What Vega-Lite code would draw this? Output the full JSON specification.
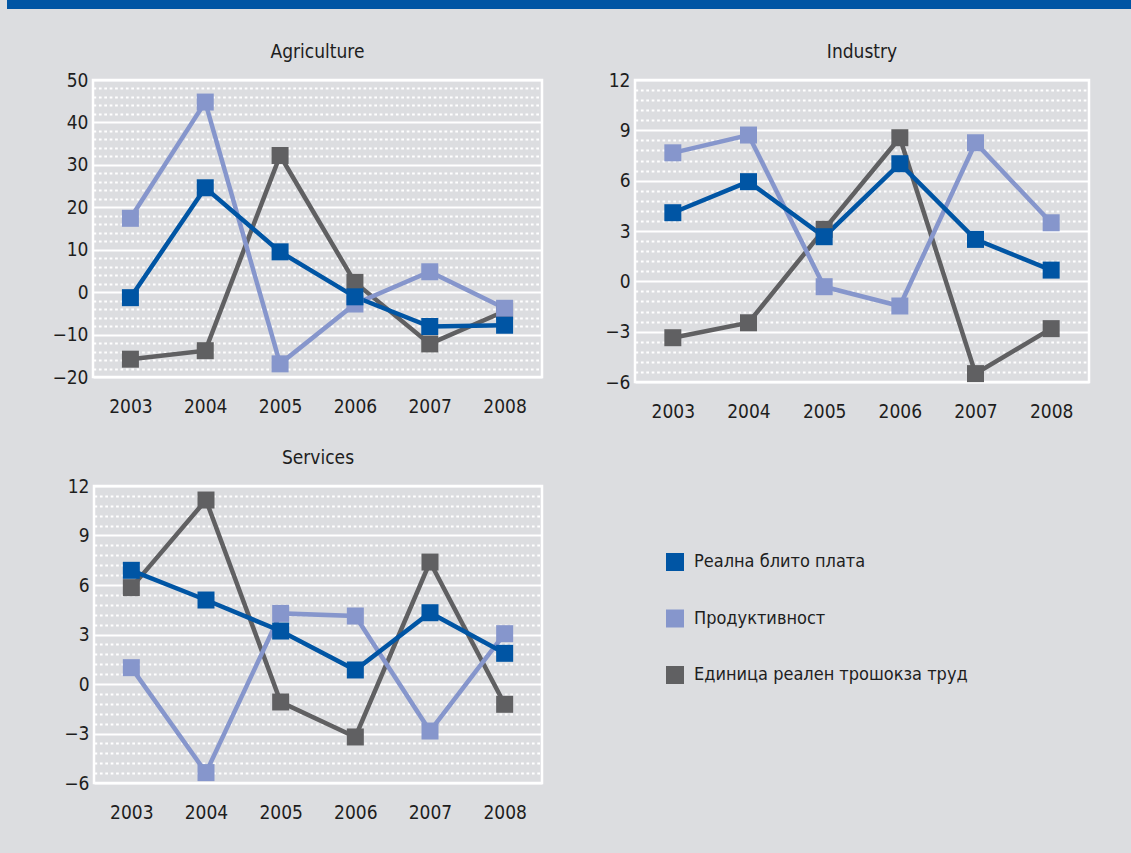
{
  "$schema": "https://vega.github.io/schema/vega-lite/v6.json",
  "autosize": {"type": "pad"},
  "padding": {"left": 7, "top": 0, "right": 0, "bottom": 46},
  "datasets": {
    "rows": [
      {"sector": "Agriculture", "series": "Единица реален трошокза труд", "year": "2003", "value": -15.8},
      {"sector": "Agriculture", "series": "Единица реален трошокза труд", "year": "2004", "value": -13.8},
      {"sector": "Agriculture", "series": "Единица реален трошокза труд", "year": "2005", "value": 32.2},
      {"sector": "Agriculture", "series": "Единица реален трошокза труд", "year": "2006", "value": 2.3},
      {"sector": "Agriculture", "series": "Единица реален трошокза труд", "year": "2007", "value": -12.2},
      {"sector": "Agriculture", "series": "Единица реален трошокза труд", "year": "2008", "value": -4.5},
      {"sector": "Agriculture", "series": "Продуктивност", "year": "2003", "value": 17.4},
      {"sector": "Agriculture", "series": "Продуктивност", "year": "2004", "value": 44.8},
      {"sector": "Agriculture", "series": "Продуктивност", "year": "2005", "value": -16.9},
      {"sector": "Agriculture", "series": "Продуктивност", "year": "2006", "value": -2.8},
      {"sector": "Agriculture", "series": "Продуктивност", "year": "2007", "value": 4.8},
      {"sector": "Agriculture", "series": "Продуктивност", "year": "2008", "value": -3.8},
      {"sector": "Agriculture", "series": "Реална блито плата", "year": "2003", "value": -1.3},
      {"sector": "Agriculture", "series": "Реална блито плата", "year": "2004", "value": 24.6},
      {"sector": "Agriculture", "series": "Реална блито плата", "year": "2005", "value": 9.5},
      {"sector": "Agriculture", "series": "Реална блито плата", "year": "2006", "value": -1.1},
      {"sector": "Agriculture", "series": "Реална блито плата", "year": "2007", "value": -8.1},
      {"sector": "Agriculture", "series": "Реална блито плата", "year": "2008", "value": -7.8},
      {"sector": "Industry", "series": "Единица реален трошокза труд", "year": "2003", "value": -3.36},
      {"sector": "Industry", "series": "Единица реален трошокза труд", "year": "2004", "value": -2.47},
      {"sector": "Industry", "series": "Единица реален трошокза труд", "year": "2005", "value": 3.1},
      {"sector": "Industry", "series": "Единица реален трошокза труд", "year": "2006", "value": 8.56},
      {"sector": "Industry", "series": "Единица реален трошокза труд", "year": "2007", "value": -5.5},
      {"sector": "Industry", "series": "Единица реален трошокза труд", "year": "2008", "value": -2.82},
      {"sector": "Industry", "series": "Продуктивност", "year": "2003", "value": 7.66},
      {"sector": "Industry", "series": "Продуктивност", "year": "2004", "value": 8.72},
      {"sector": "Industry", "series": "Продуктивност", "year": "2005", "value": -0.32},
      {"sector": "Industry", "series": "Продуктивност", "year": "2006", "value": -1.47},
      {"sector": "Industry", "series": "Продуктивност", "year": "2007", "value": 8.26},
      {"sector": "Industry", "series": "Продуктивност", "year": "2008", "value": 3.49},
      {"sector": "Industry", "series": "Реална блито плата", "year": "2003", "value": 4.09},
      {"sector": "Industry", "series": "Реална блито плата", "year": "2004", "value": 5.94},
      {"sector": "Industry", "series": "Реална блито плата", "year": "2005", "value": 2.66},
      {"sector": "Industry", "series": "Реална блито плата", "year": "2006", "value": 7.01},
      {"sector": "Industry", "series": "Реална блито плата", "year": "2007", "value": 2.5},
      {"sector": "Industry", "series": "Реална блито плата", "year": "2008", "value": 0.67},
      {"sector": "Services", "series": "Единица реален трошокза труд", "year": "2003", "value": 5.84},
      {"sector": "Services", "series": "Единица реален трошокза труд", "year": "2004", "value": 11.15},
      {"sector": "Services", "series": "Единица реален трошокза труд", "year": "2005", "value": -1.09},
      {"sector": "Services", "series": "Единица реален трошокза труд", "year": "2006", "value": -3.21},
      {"sector": "Services", "series": "Единица реален трошокза труд", "year": "2007", "value": 7.39},
      {"sector": "Services", "series": "Единица реален трошокза труд", "year": "2008", "value": -1.23},
      {"sector": "Services", "series": "Продуктивност", "year": "2003", "value": 0.99},
      {"sector": "Services", "series": "Продуктивност", "year": "2004", "value": -5.37},
      {"sector": "Services", "series": "Продуктивност", "year": "2005", "value": 4.28},
      {"sector": "Services", "series": "Продуктивност", "year": "2006", "value": 4.12},
      {"sector": "Services", "series": "Продуктивност", "year": "2007", "value": -2.85},
      {"sector": "Services", "series": "Продуктивност", "year": "2008", "value": 3.05},
      {"sector": "Services", "series": "Реална блито плата", "year": "2003", "value": 6.89},
      {"sector": "Services", "series": "Реална блито плата", "year": "2004", "value": 5.09},
      {"sector": "Services", "series": "Реална блито плата", "year": "2005", "value": 3.21},
      {"sector": "Services", "series": "Реална блито плата", "year": "2006", "value": 0.85},
      {"sector": "Services", "series": "Реална блито плата", "year": "2007", "value": 4.32},
      {"sector": "Services", "series": "Реална блито плата", "year": "2008", "value": 1.86}
    ],
    "band": [{}]
  },
  "columns": 1,
  "spacing": 32,
  "concat": [
    {
      "width": 1124,
      "height": 9,
      "data": {"name": "band"},
      "mark": {"type": "rect", "color": "#0055a4"},
      "view": {"fill": "#0055a4", "stroke": null}
    },
    {
      "spacing": 24,
      "vconcat": [
        {
          "spacing": 10,
          "hconcat": [
            {
              "width": 1,
              "height": 1,
              "data": {"name": "band"},
              "mark": {"type": "rect", "opacity": 0},
              "view": {"stroke": null}
            },
            {
              "title": {"text": "Agriculture"},
              "width": 449,
              "height": 297,
              "data": {"name": "rows"},
              "transform": [{"filter": "datum.sector === 'Agriculture'"}],
              "encoding": {
                "x": {"field": "year", "type": "ordinal", "title": null},
                "y": {
                  "field": "value", "type": "quantitative", "title": null,
                  "scale": {"domain": [-20, 50], "nice": false, "zero": false},
                  "axis": {
                    "orient": "left",
                    "minExtent": 73,
                    "values": [-20, -18, -16, -14, -12, -10, -8, -6, -4, -2, 0, 2, 4, 6, 8, 10, 12, 14, 16, 18, 20, 22, 24, 26, 28, 30, 32, 34, 36, 38, 40, 42, 44, 46, 48, 50],
                    "labelExpr": "datum.value % 10 === 0 ? format(datum.value, 'd') : ''",
                    "gridDash": {"condition": {"test": "datum.value % 10 === 0", "value": []}, "value": [2.7, 2.7]}
                  }
                },
                "color": {
                  "field": "series", "type": "nominal",
                  "scale": {"domain": ["Реална блито плата", "Продуктивност", "Единица реален трошокза труд"], "range": ["#0055a4", "#8696cc", "#606062"]}
                }
              },
              "layer": [
                {"mark": {"type": "line", "strokeWidth": 4.5}},
                {"mark": {"type": "point", "shape": "square", "filled": true, "size": 289, "opacity": 1}}
              ]
            },
            {
              "title": {"text": "Industry"},
              "width": 454,
              "height": 302,
              "data": {"name": "rows"},
              "transform": [{"filter": "datum.sector === 'Industry'"}],
              "encoding": {
                "x": {"field": "year", "type": "ordinal", "title": null},
                "y": {
                  "field": "value", "type": "quantitative", "title": null,
                  "scale": {"domain": [-6, 12], "nice": false, "zero": false},
                  "axis": {
                    "orient": "left",
                    "minExtent": 79,
                    "values": [-6, -5.4, -4.8, -4.2, -3.6, -3, -2.4, -1.8, -1.2, -0.6, 0, 0.6, 1.2, 1.8, 2.4, 3, 3.6, 4.2, 4.8, 5.4, 6, 6.6, 7.2, 7.8, 8.4, 9, 9.6, 10.2, 10.8, 11.4, 12],
                    "labelExpr": "datum.value % 3 === 0 ? format(datum.value, 'd') : ''",
                    "gridDash": {"condition": {"test": "datum.value % 3 === 0", "value": []}, "value": [2.7, 2.7]}
                  }
                },
                "color": {
                  "field": "series", "type": "nominal",
                  "scale": {"domain": ["Реална блито плата", "Продуктивност", "Единица реален трошокза труд"], "range": ["#0055a4", "#8696cc", "#606062"]}
                }
              },
              "layer": [
                {"mark": {"type": "line", "strokeWidth": 4.5}},
                {"mark": {"type": "point", "shape": "square", "filled": true, "size": 289, "opacity": 1}}
              ]
            }
          ]
        },
        {
          "spacing": 10,
          "hconcat": [
            {
              "width": 1,
              "height": 1,
              "data": {"name": "band"},
              "mark": {"type": "rect", "opacity": 0},
              "view": {"stroke": null}
            },
            {
              "title": {"text": "Services"},
              "width": 448,
              "height": 297,
              "data": {"name": "rows"},
              "transform": [{"filter": "datum.sector === 'Services'"}],
              "encoding": {
                "x": {"field": "year", "type": "ordinal", "title": null},
                "y": {
                  "field": "value", "type": "quantitative", "title": null,
                  "scale": {"domain": [-6, 12], "nice": false, "zero": false},
                  "axis": {
                    "orient": "left",
                    "minExtent": 74,
                    "values": [-6, -5.4, -4.8, -4.2, -3.6, -3, -2.4, -1.8, -1.2, -0.6, 0, 0.6, 1.2, 1.8, 2.4, 3, 3.6, 4.2, 4.8, 5.4, 6, 6.6, 7.2, 7.8, 8.4, 9, 9.6, 10.2, 10.8, 11.4, 12],
                    "labelExpr": "datum.value % 3 === 0 ? format(datum.value, 'd') : ''",
                    "gridDash": {"condition": {"test": "datum.value % 3 === 0", "value": []}, "value": [2.7, 2.7]}
                  }
                },
                "color": {
                  "field": "series", "type": "nominal",
                  "scale": {"domain": ["Реална блито плата", "Продуктивност", "Единица реален трошокза труд"], "range": ["#0055a4", "#8696cc", "#606062"]}
                }
              },
              "layer": [
                {"mark": {"type": "line", "strokeWidth": 4.5}},
                {"mark": {"type": "point", "shape": "square", "filled": true, "size": 289, "opacity": 1}}
              ]
            }
          ]
        }
      ]
    }
  ],
  "resolve": {"scale": {"color": "shared"}},
  "config": {
    "background": "#dcdde0",
    "font": "DejaVu Sans Condensed, Liberation Sans Narrow, sans-serif",
    "view": {"stroke": "#ffffff", "strokeWidth": 2.5},
    "title": {"fontSize": 19, "fontWeight": "normal", "color": "#1e1e1e", "anchor": "middle", "frame": "group", "baseline": "alphabetic", "offset": 9},
    "scale": {"pointPadding": 0.5},
    "axisX": {"labelAngle": 0, "domain": false, "ticks": false, "tickSize": 0, "grid": false, "labelFontSize": 19, "labelColor": "#1e1e1e", "labelPadding": 20},
    "axisY": {"domain": false, "ticks": false, "tickSize": 0, "tickCount": 100, "labelFontSize": 19, "labelColor": "#1e1e1e", "labelPadding": 5, "labelOverlap": false, "gridColor": "#ffffff", "gridOpacity": 1, "gridWidth": 2},
    "legend": {
      "orient": "none", "legendX": 659, "legendY": 553, "title": null,
      "symbolType": "square", "symbolSize": 324, "symbolStrokeWidth": 0, "symbolOpacity": 1,
      "labelFontSize": 18, "labelColor": "#1e1e1e", "labelOffset": 10, "labelLimit": 500, "rowPadding": 38.5
    }
  }
}
